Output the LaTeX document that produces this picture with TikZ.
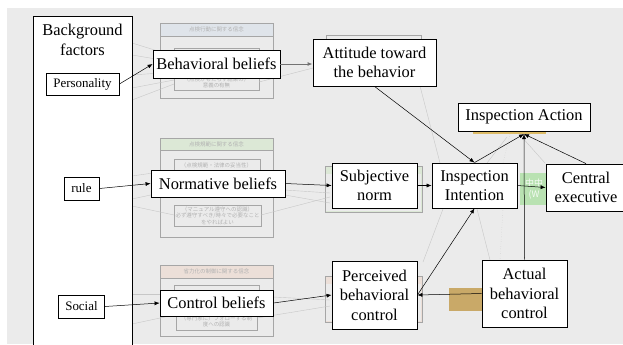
\documentclass[tikz,border=0pt]{standalone}
\usepackage{fontspec}
\setmainfont{Liberation Serif}
\newfontfamily\serifmain{Liberation Serif}
\newfontfamily\jpfont{Noto Sans CJK JP}
\usetikzlibrary{arrows.meta}
\definecolor{hdrA}{HTML}{DFE4EA}
\definecolor{hdrB}{HTML}{DCE8D6}
\definecolor{hdrC}{HTML}{ECDFD8}
\definecolor{wmgreen}{HTML}{B9E2B2}
\definecolor{tanbox}{HTML}{C9A968}
\definecolor{strip}{HTML}{DDBB66}
\begin{document}
\begin{tikzpicture}[x=1bp,y=-1bp,
  box/.style={draw=black, fill=white, line width=0.8bp, inner sep=0pt, align=center,
              font=\serifmain\fontsize{16.5}{19.5}\selectfont},
  sbox/.style={box, font=\serifmain\fontsize{13}{15}\selectfont},
  arr/.style={-{Latex[length=5bp,width=4bp]}, line width=0.5bp},
  faint/.style={draw=black!22, line width=0.4bp},
  ghost/.style={draw=black!35, line width=0.6bp},
  jtxt/.style={text=black!30, font=\jpfont\fontsize{5.5}{6.5}\selectfont, align=center, inner sep=0pt},
]
\useasboundingbox (0,0) rectangle (623,344);
\fill[white] (0,0) rectangle (623,344);
\fill[black!8] (7,8) rectangle (623,344);

% ghost groups
\draw[ghost] (160,23) rectangle (273,98);
\filldraw[ghost, fill=hdrA] (160,23) rectangle (273,36);
\node[jtxt] (gh1) at (216.5,29.5) {点検行動に関する信念};
\draw[ghost] (174,48) rectangle (259,90);
\node[jtxt] (gi1) at (216.5,82.5) {（点検がもたらす結果の）\\意義の有無};

\draw[ghost] (160,138) rectangle (273,237);
\filldraw[ghost, fill=hdrB] (160,138) rectangle (273,150);
\node[jtxt] (gh2) at (216.5,144) {点検規範に関する信念};
\draw[ghost] (174,159) rectangle (260,180);
\node[jtxt] (gi2) at (216.5,165) {（点検規範・法律の妥当性）};
\draw[ghost] (174,205) rectangle (261,226);
\node[jtxt] (gi3) at (217.5,215.5) {（マニュアル遵守への認識）\\必ず遵守すべき/時々で必要なこと\\をやればよい};

\draw[ghost] (160,265) rectangle (273,336);
\filldraw[ghost, fill=hdrC] (160,265) rectangle (273,278);
\node[jtxt] (gh3) at (216.5,271.5) {省力化の制御に関する信念};
\draw[ghost] (174,285) rectangle (259,300);
\draw[ghost] (176,312) rectangle (257,330);
\node[jtxt] (gi4) at (216.5,321.5) {（専門家に）フォローする制\\度への認識};

\draw[ghost] (326,35) rectangle (421,80);
\filldraw[ghost, fill=hdrB] (325,166) rectangle (422,212);
\fill[black!8] (326,174) rectangle (421,211);
\filldraw[ghost, fill=hdrC] (325,276) rectangle (422,322);
\fill[black!8] (326,284) rectangle (421,321);

\fill[wmgreen] (520,173) rectangle (548,205);
\node[text=white!85!wmgreen, font=\jpfont\fontsize{9}{11}\selectfont, align=center, inner sep=0pt] (wmt) at (534,189) {中中\\(W};
\fill[tanbox] (449,288) rectangle (483,311);
\fill[strip] (473,131) rectangle (546,134);

% faint connectors
\draw[faint] (132,43) -- (174,56);
\draw[faint] (132,55) -- (174,62);
\draw[faint] (132,75) -- (174,72);
\draw[faint] (132,88) -- (174,80);
\draw[faint] (132,100) -- (174,84);
\draw[faint] (259,82) -- (313,68);
\draw[faint] (132,176) -- (160,172);
\draw[faint] (132,199) -- (160,193);
\draw[faint] (132,206) -- (174,215);
\draw[faint] (132,294) -- (160,294);
\draw[faint] (132,324) -- (174,315);
\draw[faint] (285,190) -- (330,193);
\draw[faint] (285,195) -- (330,203);
\draw[faint] (261,215) -- (330,197);
\draw[faint] (273,297) -- (330,300);
\draw[faint] (257,318) -- (330,306);
\draw[faint] (420,86) -- (440,163);
\draw[faint, dotted] (510,134) -- (503,163);
\draw[faint] (507,137) -- (487,163);
\draw[faint] (520,135) -- (545,163);
\draw[faint] (443,209) -- (423,262);
\draw[faint] (477,209) -- (490,260);
\draw[faint, dotted] (503,208) -- (500,260);

% main nodes
\node[box, minimum width=99bp, minimum height=332bp] (bg) at (82.5,182) {};
\node[align=center, inner sep=0pt, font=\serifmain\fontsize{16.5}{19.5}\selectfont] (bgt) at (82.5,40) {Background\\factors};
\node[sbox, minimum width=73bp, minimum height=22bp] (pers) at (82.5,84) {Personality};
\node[sbox, minimum width=35bp, minimum height=23bp] (rule) at (81.5,188.5) {rule};
\node[sbox, minimum width=46bp, minimum height=23bp] (soc) at (81.5,306.5) {Social};

\node[box, minimum width=127bp, minimum height=28bp] (bb) at (216.5,64) {Behavioral beliefs};
\node[box, minimum width=134bp, minimum height=27bp] (nb) at (218,183.5) {Normative beliefs};
\node[box, minimum width=113bp, minimum height=26bp] (cb) at (216.5,303) {Control beliefs};

\node[box, minimum width=123bp, minimum height=47bp] (att) at (374.5,62.5) {Attitude toward\\the behavior};
\node[box, minimum width=85bp, minimum height=45bp] (sn) at (374.5,185.5) {Subjective\\norm};
\node[box, minimum width=85bp, minimum height=68bp] (pbc) at (374.5,295) {Perceived\\behavioral\\control};

\node[box, minimum width=85bp, minimum height=45bp] (int) at (474.5,185.5) {Inspection\\Intention};
\node[box, minimum width=132bp, minimum height=28bp] (ia) at (524,117) {Inspection Action};
\node[box, minimum width=80bp, minimum height=47bp] (ce) at (586,187.5) {Central\\executive};
\node[box, minimum width=85bp, minimum height=67bp] (ab) at (524.5,293.5) {Actual\\behavioral\\control};

\coordinate (iatip) at (524,134);

% connectors
\draw[arr] (pers.east) -- (bb.west);
\draw[arr] (rule.east) -- (nb.west);
\draw[arr] (soc.east) -- (cb.west);
\draw[arr, draw=black!55, line width=1bp] (bb.east) -- (bb.east -| att.west);
\draw[arr] (nb.east) -- (sn.west);
\draw[arr] (cb.east) -- (pbc.west);
\draw[arr] (att.south) -- (int.north);
\draw[arr] (sn.east) -- (int.west);
\draw[arr] (pbc.east) -- (int.south);
\draw[arr] (ab.west) -- (pbc.east);
\draw[arr] (int.east) -- (ce.west);
\draw[arr] (int.north) -- (iatip);
\draw[arr] (ce.north) -- (iatip);
\draw[arr] (ab.north) -- (iatip);
\end{tikzpicture}
\end{document}
